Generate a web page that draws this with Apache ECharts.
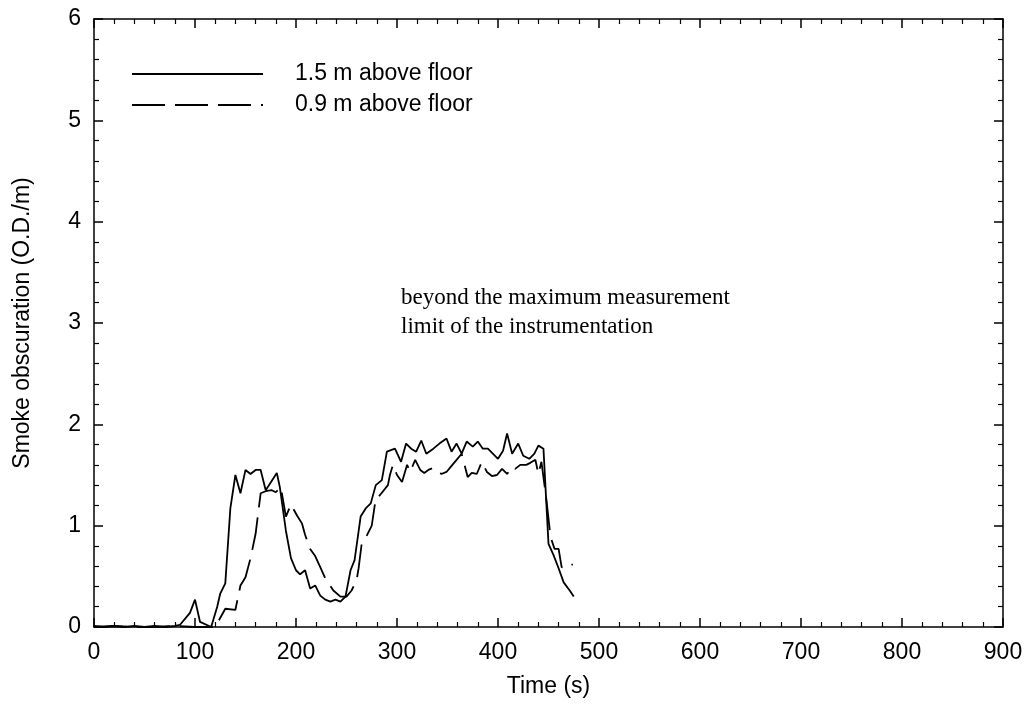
<!DOCTYPE html>
<html>
<head>
<meta charset="utf-8">
<script src="https://cdn.jsdelivr.net/npm/echarts@6/dist/echarts.min.js"></script>
<style>
  html, body { margin: 0; padding: 0; background: #fff; }
  #chart { width: 1029px; height: 713px; }
</style>
</head>
<body>
<div id="chart"></div>
<script>
// 1.5 m 高度测点 [时间 s, 烟密度 O.D./m]
const high15 = [
  [0, 0.01], [10, 0.0], [20, 0.01], [30, 0.0], [40, 0.01], [50, 0.0], [60, 0.01], [70, 0.0], [80, 0.01],
  [85, 0.02], [95, 0.14], [100, 0.27], [105, 0.05], [116, 0.0], [122, 0.2], [125, 0.33], [130, 0.43],
  [135, 1.17], [140, 1.50], [145, 1.32], [150, 1.55], [155, 1.51], [160, 1.55], [165, 1.55], [170, 1.35],
  [181, 1.52], [184, 1.38], [190, 0.95], [195, 0.68], [200, 0.56], [204, 0.52], [209, 0.56], [214, 0.38],
  [219, 0.41], [224, 0.31], [229, 0.27], [234, 0.25], [239, 0.27], [244, 0.25], [249, 0.30], [254, 0.56],
  [258, 0.66], [264, 1.09], [269, 1.17], [274, 1.22], [279, 1.40], [285, 1.45], [290, 1.73], [298, 1.76],
  [304, 1.63], [309, 1.81], [314, 1.76], [319, 1.73], [324, 1.84], [329, 1.71], [336, 1.76], [342, 1.81],
  [349, 1.86], [354, 1.73], [359, 1.81], [364, 1.71], [369, 1.83], [375, 1.78], [380, 1.83], [385, 1.76],
  [390, 1.76], [400, 1.66], [405, 1.74], [409, 1.91], [414, 1.71], [420, 1.81], [425, 1.69], [431, 1.66],
  [436, 1.71], [440, 1.79], [445, 1.76], [450, 0.82], [455, 0.71], [460, 0.58], [465, 0.44], [471, 0.36],
  [475, 0.30]
];

// 0.9 m 高度测点
const high09 = [
  [0, 0.0], [20, 0.01], [40, 0.0], [60, 0.0], [80, 0.01], [100, 0.0], [120, 0.0], [130, 0.18],
  [140, 0.17], [145, 0.41], [150, 0.49], [155, 0.68], [160, 0.92], [165, 1.32], [170, 1.34], [176, 1.35],
  [180, 1.33], [185, 1.38], [190, 1.09], [195, 1.21], [201, 1.10], [206, 1.02], [209, 0.91], [214, 0.77],
  [219, 0.70], [224, 0.59], [229, 0.48], [237, 0.36], [244, 0.30], [250, 0.30], [255, 0.36], [260, 0.46],
  [262, 0.58], [265, 0.82], [269, 0.88], [275, 1.00], [279, 1.27], [283, 1.30], [291, 1.40], [293, 1.50],
  [296, 1.60], [300, 1.50], [305, 1.43], [310, 1.60], [313, 1.53], [318, 1.65], [323, 1.55], [327, 1.52],
  [331, 1.55], [336, 1.57], [340, 1.54], [344, 1.51], [349, 1.53], [354, 1.59], [359, 1.65], [364, 1.71],
  [370, 1.48], [374, 1.52], [379, 1.51], [384, 1.63], [389, 1.53], [394, 1.49], [399, 1.50], [404, 1.56],
  [409, 1.51], [414, 1.58], [417, 1.56], [422, 1.60], [428, 1.60], [432, 1.62], [437, 1.65], [440, 1.51],
  [443, 1.63], [448, 1.25], [452, 0.89], [456, 0.77], [460, 0.77], [463, 0.59], [468, 0.58], [474, 0.62]
];

const seriesNames = ['1.5 m above floor', '0.9 m above floor'];
const noteLines = ['beyond the maximum measurement', 'limit of the instrumentation'];

const sans = '"Liberation Sans", Arial, sans-serif';
const serif = '"Liberation Serif", "Times New Roman", serif';

const chart = echarts.init(document.getElementById('chart'));

function makeAxis(extra) {
  return Object.assign({
    type: 'value',
    axisLine: { show: true, onZero: false, lineStyle: { color: '#000', width: 1.5 } },
    axisTick: { show: true, inside: true, length: 9, lineStyle: { color: '#000', width: 1.5 } },
    minorTick: { show: true, splitNumber: 5, length: 5, lineStyle: { color: '#000', width: 1.2 } },
    splitLine: { show: false },
    axisLabel: { show: true, color: '#000', fontFamily: sans, fontSize: 23 }
  }, extra);
}

chart.setOption({
  animation: false,
  backgroundColor: '#fff',
  grid: { left: 94, right: 26, top: 19, bottom: 86 },
  legend: {
    orient: 'vertical',
    left: 131,
    top: 62,
    padding: 0,
    itemWidth: 131,
    itemHeight: 14,
    itemGap: 7,
    itemStyle: { opacity: 0, borderWidth: 0 },
    textStyle: { color: '#000', fontFamily: sans, fontSize: 23, lineHeight: 24, padding: [0, 0, 0, 27] },
    data: seriesNames
  },
  xAxis: [
    makeAxis({
      min: 0, max: 900, interval: 100, position: 'bottom',
      name: 'Time (s)', nameLocation: 'middle', nameGap: 48,
      nameTextStyle: { color: '#000', fontFamily: sans, fontSize: 23 },
      axisLabel: { color: '#000', fontFamily: sans, fontSize: 23, margin: 14 }
    }),
    makeAxis({ min: 0, max: 900, interval: 100, position: 'top', axisLabel: { show: false } })
  ],
  yAxis: [
    makeAxis({
      min: 0, max: 6, interval: 1, position: 'left',
      name: 'Smoke obscuration (O.D./m)', nameLocation: 'middle', nameGap: 60,
      nameTextStyle: { color: '#000', fontFamily: sans, fontSize: 23 },
      axisLabel: { color: '#000', fontFamily: sans, fontSize: 23, margin: 13 }
    }),
    makeAxis({ min: 0, max: 6, interval: 1, position: 'right', axisLabel: { show: false } })
  ],
  series: [
    {
      name: seriesNames[0], type: 'line', data: high15,
      showSymbol: false, symbol: 'none',
      lineStyle: { color: '#000', width: 1.8 },
      itemStyle: { color: '#000' }
    },
    {
      name: seriesNames[1], type: 'line', data: high09,
      showSymbol: false, symbol: 'none',
      lineStyle: { color: '#000', width: 1.8, type: [33, 10] },
      itemStyle: { color: '#000' }
    }
  ],
  graphic: [
    {
      type: 'text', left: 401, top: 283,
      style: { text: noteLines.join('\n'), fill: '#000', font: '23px ' + serif, lineHeight: 29 }
    }
  ]
});
</script>
</body>
</html>
